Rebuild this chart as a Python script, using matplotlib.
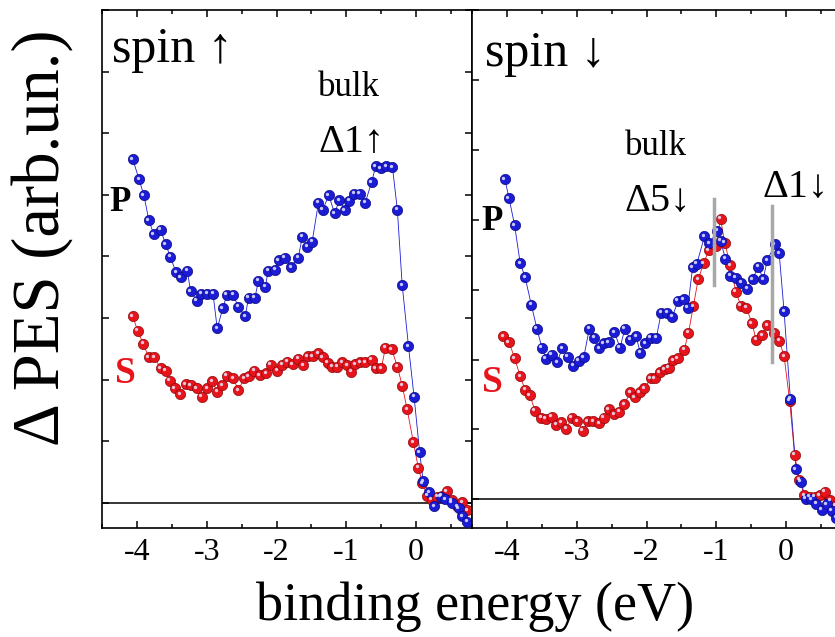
import numpy as np
import matplotlib
matplotlib.use("Agg")
import matplotlib.pyplot as plt
from matplotlib import transforms
from matplotlib.ticker import MultipleLocator, NullFormatter

plt.rcParams['font.family'] = ['Liberation Serif', 'DejaVu Serif']
plt.rcParams['axes.unicode_minus'] = False

# ---- spin up panel ----
up_p_x = [-4.06, -3.97, -3.90, -3.83, -3.76, -3.66, -3.59, -3.52, -3.44, -3.37, -3.28, -3.23, -3.14,
          -3.08, -2.99, -2.91, -2.85, -2.77, -2.71, -2.62, -2.55, -2.45, -2.40, -2.31, -2.26, -2.16,
          -2.12, -2.02, -1.97, -1.88, -1.79, -1.69, -1.63, -1.56, -1.49, -1.40, -1.34, -1.25, -1.17,
          -1.10, -1.02, -0.96, -0.89, -0.81, -0.73, -0.64, -0.58, -0.51, -0.43, -0.34, -0.27, -0.20,
          -0.11, -0.03, 0.05, 0.10, 0.19, 0.26, 0.35, 0.42, 0.51, 0.61, 0.66, 0.73]
up_p_y = [5.58, 5.25, 4.99, 4.59, 4.36, 4.43, 4.20, 3.99, 3.74, 3.66, 3.77, 3.43, 3.28,
          3.39, 3.39, 3.39, 2.83, 3.16, 3.38, 3.38, 3.18, 3.03, 3.33, 3.33, 3.60, 3.51,
          3.77, 3.78, 3.94, 3.98, 3.82, 3.98, 4.32, 4.16, 4.24, 4.87, 4.76, 4.99, 4.70,
          4.91, 4.75, 4.90, 5.02, 5.02, 4.87, 5.20, 5.46, 5.43, 5.46, 5.45, 4.76, 3.53,
          2.54, 1.72, 0.82, 0.35, 0.17, -0.06, 0.10, 0.06, 0.00, -0.09, -0.22, -0.31]
up_s_x = [-4.06, -3.99, -3.91, -3.83, -3.75, -3.66, -3.59, -3.53, -3.46, -3.38, -3.30, -3.23, -3.14,
          -3.07, -2.99, -2.92, -2.85, -2.78, -2.71, -2.62, -2.55, -2.46, -2.40, -2.32, -2.24, -2.15,
          -2.08, -1.99, -1.92, -1.85, -1.77, -1.69, -1.62, -1.55, -1.48, -1.40, -1.34, -1.27, -1.20,
          -1.13, -1.06, -0.99, -0.93, -0.87, -0.80, -0.73, -0.64, -0.58, -0.50, -0.44, -0.35, -0.27,
          -0.20, -0.13, -0.04, 0.03, 0.09, 0.16, 0.22, 0.30, 0.37, 0.44, 0.51, 0.59, 0.66, 0.73]
up_s_y = [3.03, 2.79, 2.58, 2.36, 2.36, 2.18, 2.14, 1.98, 1.86, 1.76, 1.92, 1.91, 1.86,
          1.72, 1.86, 1.97, 1.80, 1.91, 2.06, 2.02, 1.83, 2.02, 2.05, 2.14, 2.07, 2.10,
          2.24, 2.14, 2.24, 2.29, 2.25, 2.34, 2.23, 2.38, 2.38, 2.43, 2.36, 2.27, 2.21,
          2.21, 2.28, 2.23, 2.13, 2.25, 2.28, 2.28, 2.32, 2.18, 2.18, 2.52, 2.49, 2.21,
          1.90, 1.52, 0.98, 0.57, 0.32, 0.11, 0.05, 0.10, 0.11, 0.19, 0.04, -0.06, 0.01, -0.12]

# ---- spin down panel ----
dn_p_x = [-4.03, -3.97, -3.89, -3.81, -3.74, -3.65, -3.57, -3.50, -3.44, -3.36, -3.28, -3.21, -3.13,
          -3.05, -2.97, -2.90, -2.82, -2.75, -2.68, -2.61, -2.54, -2.46, -2.38, -2.31, -2.23, -2.15,
          -2.09, -2.02, -1.94, -1.86, -1.79, -1.70, -1.63, -1.55, -1.47, -1.41, -1.34, -1.28, -1.17,
          -1.10, -0.99, -0.94, -0.87, -0.80, -0.72, -0.64, -0.56, -0.48, -0.40, -0.33, -0.27, -0.16,
          -0.10, -0.03, 0.06, 0.14, 0.21, 0.28, 0.36, 0.43, 0.51, 0.58, 0.65, 0.72]
dn_p_y = [4.58, 4.31, 3.92, 3.38, 3.18, 2.78, 2.44, 2.17, 2.01, 2.07, 1.96, 2.16, 2.04,
          1.91, 1.98, 2.03, 2.44, 2.31, 2.16, 2.23, 2.25, 2.39, 2.17, 2.44, 2.28, 2.33,
          2.10, 2.23, 2.31, 2.31, 2.67, 2.67, 2.61, 2.84, 2.86, 2.74, 3.32, 3.37, 3.76,
          3.66, 3.84, 3.70, 3.44, 3.20, 3.17, 3.10, 3.01, 3.15, 3.33, 3.15, 3.42, 3.65,
          3.52, 2.69, 1.44, 0.43, 0.25, 0.01, 0.00, -0.06, -0.15, -0.07, -0.16, -0.26]
dn_s_x = [-4.05, -3.97, -3.89, -3.81, -3.74, -3.67, -3.60, -3.51, -3.44, -3.36, -3.29, -3.22, -3.15,
          -3.07, -2.99, -2.91, -2.84, -2.76, -2.68, -2.61, -2.54, -2.46, -2.39, -2.32, -2.23, -2.17,
          -2.10, -2.03, -1.94, -1.88, -1.81, -1.74, -1.68, -1.62, -1.55, -1.46, -1.40, -1.33, -1.26,
          -1.18, -1.11, -1.01, -0.94, -0.88, -0.80, -0.72, -0.65, -0.57, -0.49, -0.43, -0.34, -0.27,
          -0.17, -0.10, -0.03, 0.05, 0.12, 0.19, 0.26, 0.34, 0.41, 0.48, 0.55, 0.63, 0.70]
dn_s_y = [2.33, 2.25, 2.02, 1.76, 1.57, 1.49, 1.27, 1.17, 1.15, 1.18, 1.07, 1.10, 1.01,
          1.17, 1.12, 0.98, 1.12, 1.12, 1.09, 1.17, 1.29, 1.22, 1.25, 1.36, 1.53, 1.46,
          1.53, 1.59, 1.73, 1.73, 1.82, 1.86, 1.88, 1.99, 2.02, 2.14, 2.38, 2.76, 3.15,
          3.38, 3.56, 3.62, 4.01, 3.67, 3.35, 2.97, 2.77, 2.74, 2.52, 2.28, 2.35, 2.49,
          2.38, 2.27, 2.05, 1.41, 0.64, 0.28, 0.06, 0.04, 0.04, 0.06, 0.11, -0.01, -0.09]

# gray markers in spin down panel: (x, y_low, y_high)
dn_marks = [(-1.04, 3.06, 4.29), (-0.20, 1.97, 4.19)]

blue, blue_dk = '#1c1cd6', '#0a0a80'
red, red_dk = '#e8141c', '#8a0a0a'

fig = plt.figure(figsize=(8.35, 6.37), dpi=100)
ax1 = fig.add_axes([0.1222, 0.1711, 0.4431, 0.8132])
ax2 = fig.add_axes([0.5653, 0.1711, 0.4431, 0.8132])


def spheres(ax, x, y, col, dark):
    ax.plot(x, y, '-', color=col, lw=0.6, zorder=2)
    ax.plot(x, y, 'o', ms=7.4, mfc=col, mec=dark, mew=0.5, zorder=3)
    hl = transforms.offset_copy(ax.transData, fig=ax.figure, x=-1.1, y=1.1, units='points')
    ax.plot(x, y, 'o', ms=2.4, mfc='#e8e8ff', mec='none', alpha=0.85, transform=hl, zorder=4)


for ax, ytop in [(ax1, 8.0), (ax2, 7.0)]:
    ax.axhline(0, color='black', lw=1.1, zorder=1)
    ax.set_xlim(-4.5, 0.8)
    ax.set_ylim(-0.41, ytop)
    ax.xaxis.set_major_locator(MultipleLocator(1))
    ax.xaxis.set_minor_locator(MultipleLocator(0.5))
    ax.yaxis.set_major_locator(MultipleLocator(1))
    ax.yaxis.set_major_formatter(NullFormatter())
    ax.tick_params(which='both', direction='in', top=True, right=True, width=1.1)
    ax.tick_params(which='major', length=5, labelsize=23, pad=7)
    ax.tick_params(which='minor', length=3)
    for s in ax.spines.values():
        s.set_linewidth(1.2)

spheres(ax1, up_s_x, up_s_y, red, red_dk)
spheres(ax1, up_p_x, up_p_y, blue, blue_dk)
spheres(ax2, dn_s_x, dn_s_y, red, red_dk)
spheres(ax2, dn_p_x, dn_p_y, blue, blue_dk)

for xm, y0, y1 in dn_marks:
    ax2.plot([xm, xm], [y0, y1], color='#a8a8a8', lw=2.5, zorder=5)

# panel annotations
ax1.text(-4.36, 7.15, 'spin \u2191', fontsize=36, va='baseline')
ax1.text(-0.96, 6.6, 'bulk', fontsize=25, ha='center', va='baseline')
ax1.text(-0.93, 5.69, '\u03941\u2191', fontsize=29, ha='center', va='baseline')
ax1.text(-4.39, 4.73, 'P', fontsize=25, fontweight='bold', va='baseline')
ax1.text(-4.32, 1.94, 'S', fontsize=27, fontweight='bold', color=red, va='baseline')

ax2.text(-4.31, 6.2, 'spin \u2193', fontsize=36, va='baseline')
ax2.text(-1.86, 4.92, 'bulk', fontsize=25, ha='center', va='baseline')
ax2.text(-1.84, 4.12, '\u03945\u2193', fontsize=29, ha='center', va='baseline')
ax2.text(0.14, 4.33, '\u03941\u2193', fontsize=29, ha='center', va='baseline')
ax2.text(-4.37, 3.85, 'P', fontsize=25, fontweight='bold', va='baseline')
ax2.text(-4.35, 1.53, 'S', fontsize=27, fontweight='bold', color=red, va='baseline')

fig.text(0.569, 0.026, 'binding energy (eV)', fontsize=39, ha='center', va='baseline')
fig.text(0.05, 0.626, '\u0394 PES (arb.un.)', fontsize=48, rotation=90, ha='center', va='center')

fig.savefig('out.png', dpi=100)
